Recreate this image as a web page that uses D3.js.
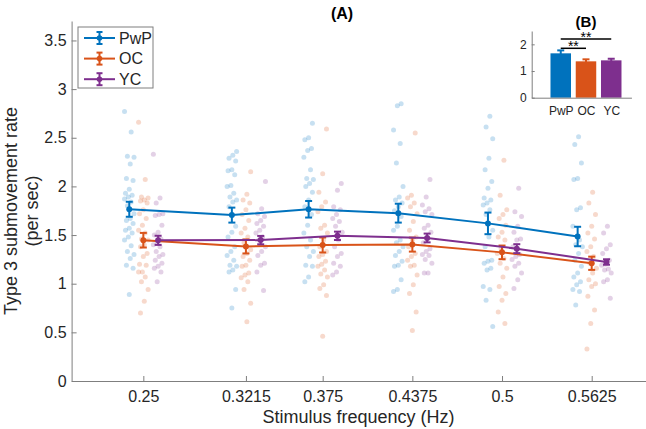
<!DOCTYPE html>
<html>
<head>
<meta charset="utf-8">
<script src="https://cdn.jsdelivr.net/npm/d3@7"></script>
<style>
  body { margin: 0; background: #fff; }
  text { font-family: "Liberation Sans", Arial, Helvetica, sans-serif; }
</style>
</head>
<body>
<svg id="chart" width="646" height="429"></svg>
<script>
// ---------------- DATA ----------------
const freqs = [0.25, 0.3215, 0.375, 0.4375, 0.5, 0.5625];
const freqLabels = ["0.25", "0.3215", "0.375", "0.4375", "0.5", "0.5625"];
const groupNames = ["PwP", "OC", "YC"];
const yTicks = [0, 0.5, 1, 1.5, 2, 2.5, 3, 3.5];

const pwpMean = [1.765, 1.705, 1.765, 1.725, 1.620, 1.485];
const pwpSE   = [0.077, 0.077, 0.085, 0.097, 0.111, 0.100];
const ocMean  = [1.447, 1.383, 1.398, 1.402, 1.322, 1.210];
const ocSE    = [0.075, 0.072, 0.077, 0.072, 0.070, 0.068];
const ycMean  = [1.446, 1.448, 1.492, 1.470, 1.360, 1.223];
const ycSE    = [0.047, 0.043, 0.043, 0.045, 0.046, 0.028];

// individual subject values per frequency
const pwpDots = [
  [2.77,2.56,2.31,2.30,2.23,2.08,2.06,1.97,1.93,1.91,1.89,1.87,1.84,1.80,1.72,1.67,1.65,1.62,1.57,1.55,1.52,1.48,1.45,1.39,1.33,1.30,1.26,1.19,1.16,0.89],
  [2.36,2.32,2.29,2.26,2.17,2.16,2.12,2.01,2.00,1.93,1.89,1.86,1.84,1.79,1.59,1.53,1.48,1.38,1.33,1.29,1.24,1.19,1.18,1.14,1.12,0.94,0.75],
  [2.65,2.50,2.48,2.39,2.37,2.30,2.17,2.08,2.07,2.03,2.00,1.94,1.86,1.79,1.71,1.60,1.52,1.45,1.38,1.33,1.28,1.19,1.18,1.07,1.02],
  [2.85,2.83,2.58,2.44,2.24,2.00,1.89,1.86,1.83,1.79,1.75,1.69,1.59,1.55,1.45,1.42,1.38,1.33,1.29,1.23,1.19,1.18,1.04,0.94,0.92],
  [2.72,2.61,2.49,2.29,2.17,2.05,1.98,1.88,1.86,1.83,1.81,1.76,1.71,1.55,1.48,1.38,1.24,1.23,1.21,1.16,1.14,0.97,0.94,0.83,0.56],
  [2.51,2.43,2.24,2.08,2.07,1.78,1.76,1.59,1.45,1.40,1.38,1.31,1.24,1.18,1.11,1.07,1.02,0.99,0.94,0.92,0.78]
];
const ocDots = [
  [2.66,2.07,1.89,1.88,1.86,1.85,1.83,1.76,1.72,1.67,1.60,1.55,1.52,1.46,1.45,1.40,1.38,1.31,1.28,1.20,1.19,1.12,1.12,1.07,1.02,0.94,0.82,0.70],
  [2.15,1.92,1.86,1.83,1.76,1.71,1.65,1.57,1.52,1.48,1.42,1.35,1.31,1.28,1.24,1.19,1.18,1.11,1.09,1.06,1.02,0.94,0.80,0.61],
  [2.59,2.13,1.94,1.84,1.79,1.74,1.60,1.57,1.52,1.45,1.38,1.33,1.30,1.28,1.23,1.20,1.18,1.14,1.10,1.07,0.99,0.95,0.88,0.46],
  [2.55,1.91,1.88,1.83,1.79,1.72,1.64,1.55,1.48,1.45,1.38,1.31,1.28,1.24,1.19,1.18,1.09,0.99,0.90,0.71,0.52],
  [2.27,1.91,1.76,1.71,1.67,1.60,1.53,1.48,1.45,1.36,1.31,1.26,1.21,1.16,1.07,0.97,0.90,0.83,0.71,0.59],
  [1.94,1.83,1.71,1.59,1.52,1.46,1.38,1.33,1.28,1.21,1.16,1.11,1.04,1.00,0.97,0.87,0.73,0.59,0.33]
];
const ycDots = [
  [2.33,1.88,1.83,1.72,1.71,1.70,1.60,1.53,1.50,1.46,1.42,1.40,1.38,1.33,1.30,1.28,1.24,1.21,1.18,1.16,1.12,1.02],
  [2.05,1.77,1.72,1.69,1.65,1.62,1.59,1.55,1.52,1.48,1.45,1.38,1.33,1.29,1.21,1.19,1.12,0.93],
  [2.03,1.96,1.79,1.76,1.71,1.67,1.64,1.59,1.53,1.45,1.38,1.31,1.28,1.21,1.18,1.12,1.09],
  [2.07,1.89,1.81,1.77,1.74,1.71,1.60,1.57,1.53,1.46,1.42,1.36,1.33,1.30,1.29,1.25,1.21,1.11,1.11],
  [1.98,1.74,1.69,1.59,1.53,1.46,1.45,1.38,1.30,1.28,1.25,1.21,1.18,1.11,1.04,0.95],
  [1.59,1.52,1.40,1.36,1.31,1.24,1.20,1.19,1.15,1.14,1.11,1.04,1.02,0.85]
];

// inset (B)
const barMeans = [1.663, 1.363, 1.400];
const barSE    = [0.110, 0.075, 0.060];
const insetTicks = [0, 1, 2];
const sigPairs = [
  { from: 0, to: 2, label: "**" },
  { from: 0, to: 1, label: "**" }
];

// ---------------- STYLE ----------------
const colors = ["#0072BD", "#D95319", "#7E2F8E"];
const axisColor = "#7f7f7f";
const textColor = "#262626";

const svg = d3.select("#chart");

// ---------------- MAIN AXES ----------------
const x = d3.scaleLinear().domain([0.2, 0.6]).range([71.6, 645.5]);
const y = d3.scaleLinear().domain([0, 3.7]).range([381, 21]);
const groupShift = [-0.0098, 0, 0.0103];

const series = [
  { mean: pwpMean, se: pwpSE, dots: pwpDots },
  { mean: ocMean,  se: ocSE,  dots: ocDots },
  { mean: ycMean,  se: ycSE,  dots: ycDots }
];

// x axis
const xAxis = d3.axisBottom(x).tickValues(freqs).tickFormat((d, i) => freqLabels[i])
  .tickSizeInner(-5).tickSizeOuter(0).tickPadding(10);
const gx = svg.append("g").attr("transform", `translate(0,${y(0)})`).call(xAxis);
gx.select(".domain").attr("stroke", axisColor);
gx.selectAll(".tick line").attr("stroke", axisColor);
gx.selectAll(".tick text").attr("fill", textColor).attr("font-size", 16)
  .attr("font-family", "Liberation Sans, Arial, sans-serif");

// y axis
const yAxis = d3.axisLeft(y).tickValues(yTicks).tickFormat(d3.format("~g"))
  .tickSizeInner(-5).tickSizeOuter(0).tickPadding(5);
const gy = svg.append("g").attr("transform", `translate(${x(0.2)},0)`).call(yAxis);
gy.select(".domain").attr("stroke", axisColor);
gy.selectAll(".tick line").attr("stroke", axisColor);
gy.selectAll(".tick text").attr("fill", textColor).attr("font-size", 16)
  .attr("font-family", "Liberation Sans, Arial, sans-serif");

// axis labels
svg.append("text").attr("x", x(0.4)).attr("y", 423).attr("text-anchor", "middle")
  .attr("font-size", 18).attr("fill", textColor).text("Stimulus frequency (Hz)");
const yl = svg.append("g").attr("transform", `translate(0,${(y(0) + y(3.7)) / 2 + 10}) rotate(-90)`);
yl.append("text").attr("x", 0).attr("y", 17).attr("text-anchor", "middle")
  .attr("font-size", 18).attr("fill", textColor).text("Type 3 submovement rate");
yl.append("text").attr("x", 0).attr("y", 38).attr("text-anchor", "middle")
  .attr("font-size", 18).attr("fill", textColor).text("(per sec)");

// title
svg.append("text").attr("x", 342).attr("y", 19).attr("text-anchor", "middle")
  .attr("font-size", 16).attr("font-weight", "bold").attr("fill", "#000").text("(A)");

// jittered dots
const jitter = i => (((i * 7) % 11) - 5) * 0.95;
const dotLayer = svg.append("g");
series.forEach((s, si) => {
  s.dots.forEach((vals, fi) => {
    dotLayer.selectAll(null).data(vals).enter().append("circle")
      .attr("cx", (d, i) => x(freqs[fi] + groupShift[si]) + jitter(i + fi * 3))
      .attr("cy", d => y(d))
      .attr("r", 2.5)
      .attr("fill", colors[si])
      .attr("fill-opacity", 0.22);
  });
});

// mean lines + error bars
const line = d3.line().x(d => x(d.f)).y(d => y(d.m));
series.forEach((s, si) => {
  const pts = freqs.map((f, i) => ({ f: f + groupShift[si], m: s.mean[i], e: s.se[i] }));
  const g = svg.append("g");
  g.append("path").datum(pts).attr("d", line).attr("fill", "none")
    .attr("stroke", colors[si]).attr("stroke-width", 2);
  const eb = g.selectAll(null).data(pts).enter().append("g");
  eb.append("line").attr("x1", d => x(d.f)).attr("x2", d => x(d.f))
    .attr("y1", d => y(d.m - d.e)).attr("y2", d => y(d.m + d.e))
    .attr("stroke", colors[si]).attr("stroke-width", 2);
  [1, -1].forEach(sg => {
    eb.append("line").attr("x1", d => x(d.f) - 3.5).attr("x2", d => x(d.f) + 3.5)
      .attr("y1", d => y(d.m + sg * d.e)).attr("y2", d => y(d.m + sg * d.e))
      .attr("stroke", colors[si]).attr("stroke-width", 2);
  });
  eb.append("circle").attr("cx", d => x(d.f)).attr("cy", d => y(d.m)).attr("r", 3)
    .attr("fill", colors[si]);
});

// legend
const lg = svg.append("g");
lg.append("rect").attr("x", 78).attr("y", 27).attr("width", 75).attr("height", 61)
  .attr("fill", "#fff").attr("stroke", axisColor).attr("stroke-width", 1);
groupNames.forEach((n, i) => {
  const ly = 38 + i * 20.6;
  lg.append("line").attr("x1", 84).attr("x2", 115).attr("y1", ly).attr("y2", ly)
    .attr("stroke", colors[i]).attr("stroke-width", 2);
  lg.append("line").attr("x1", 99.5).attr("x2", 99.5).attr("y1", ly - 6).attr("y2", ly + 6)
    .attr("stroke", colors[i]).attr("stroke-width", 2);
  [-6, 6].forEach(o => lg.append("line").attr("x1", 96.5).attr("x2", 102.5)
    .attr("y1", ly + o).attr("y2", ly + o).attr("stroke", colors[i]).attr("stroke-width", 2));
  lg.append("circle").attr("cx", 99.5).attr("cy", ly).attr("r", 2.8).attr("fill", colors[i]);
  lg.append("text").attr("x", 119).attr("y", ly + 5.8).attr("font-size", 16)
    .attr("fill", textColor).text(n);
});

// ---------------- INSET (B) ----------------
const xb = d3.scaleLinear().domain([-0.15, 3.8]).range([531.7, 531.7 + 3.95 * 25.25]);
const yb = d3.scaleLinear().domain([0, 2.5]).range([97.7, 31]);
const barW = 20.5;

const gyb = svg.append("g").attr("transform", `translate(${xb(-0.15)},0)`)
  .call(d3.axisLeft(yb).tickValues(insetTicks).tickFormat(d3.format("d"))
    .tickSizeInner(-3).tickSizeOuter(0).tickPadding(5));
gyb.select(".domain").attr("stroke", axisColor);
gyb.selectAll(".tick line").attr("stroke", axisColor);
gyb.selectAll(".tick text").attr("fill", textColor).attr("font-size", 12)
  .attr("font-family", "Liberation Sans, Arial, sans-serif");

svg.append("g").selectAll(null).data(barMeans).enter().append("rect")
  .attr("x", (d, i) => xb(i + 1) - barW / 2).attr("width", barW)
  .attr("y", d => yb(d)).attr("height", d => yb(0) - yb(d))
  .attr("fill", (d, i) => colors[i]);

const ebb = svg.append("g").selectAll(null).data(barMeans).enter().append("g");
ebb.append("line").attr("x1", (d, i) => xb(i + 1)).attr("x2", (d, i) => xb(i + 1))
  .attr("y1", (d, i) => yb(d - barSE[i])).attr("y2", (d, i) => yb(d + barSE[i]))
  .attr("stroke", (d, i) => colors[i]).attr("stroke-width", 2);
ebb.append("line").attr("x1", (d, i) => xb(i + 1) - 3.5).attr("x2", (d, i) => xb(i + 1) + 3.5)
  .attr("y1", (d, i) => yb(d + barSE[i])).attr("y2", (d, i) => yb(d + barSE[i]))
  .attr("stroke", (d, i) => colors[i]).attr("stroke-width", 2);

const gxb = svg.append("g").attr("transform", `translate(0,${yb(0)})`)
  .call(d3.axisBottom(xb).tickValues([1, 2, 3]).tickFormat((d, i) => groupNames[i])
    .tickSize(0).tickPadding(9));
gxb.select(".domain").attr("stroke", axisColor);
gxb.selectAll(".tick text").attr("fill", textColor).attr("font-size", 12)
  .attr("font-family", "Liberation Sans, Arial, sans-serif");

// significance brackets
const sigY = [39, 48.3];
sigPairs.forEach((p, k) => {
  svg.append("line").attr("x1", xb(p.from + 1)).attr("x2", xb(p.to + 1))
    .attr("y1", sigY[k]).attr("y2", sigY[k]).attr("stroke", "#000").attr("stroke-width", 1.5);
  svg.append("text").attr("x", (xb(p.from + 1) + xb(p.to + 1)) / 2).attr("y", sigY[k] + 3)
    .attr("text-anchor", "middle").attr("font-size", 14).attr("fill", "#000").text(p.label);
});

svg.append("text").attr("x", 586).attr("y", 27).attr("text-anchor", "middle")
  .attr("font-size", 15).attr("font-weight", "bold").attr("fill", "#000").text("(B)");
</script>
</body>
</html>
